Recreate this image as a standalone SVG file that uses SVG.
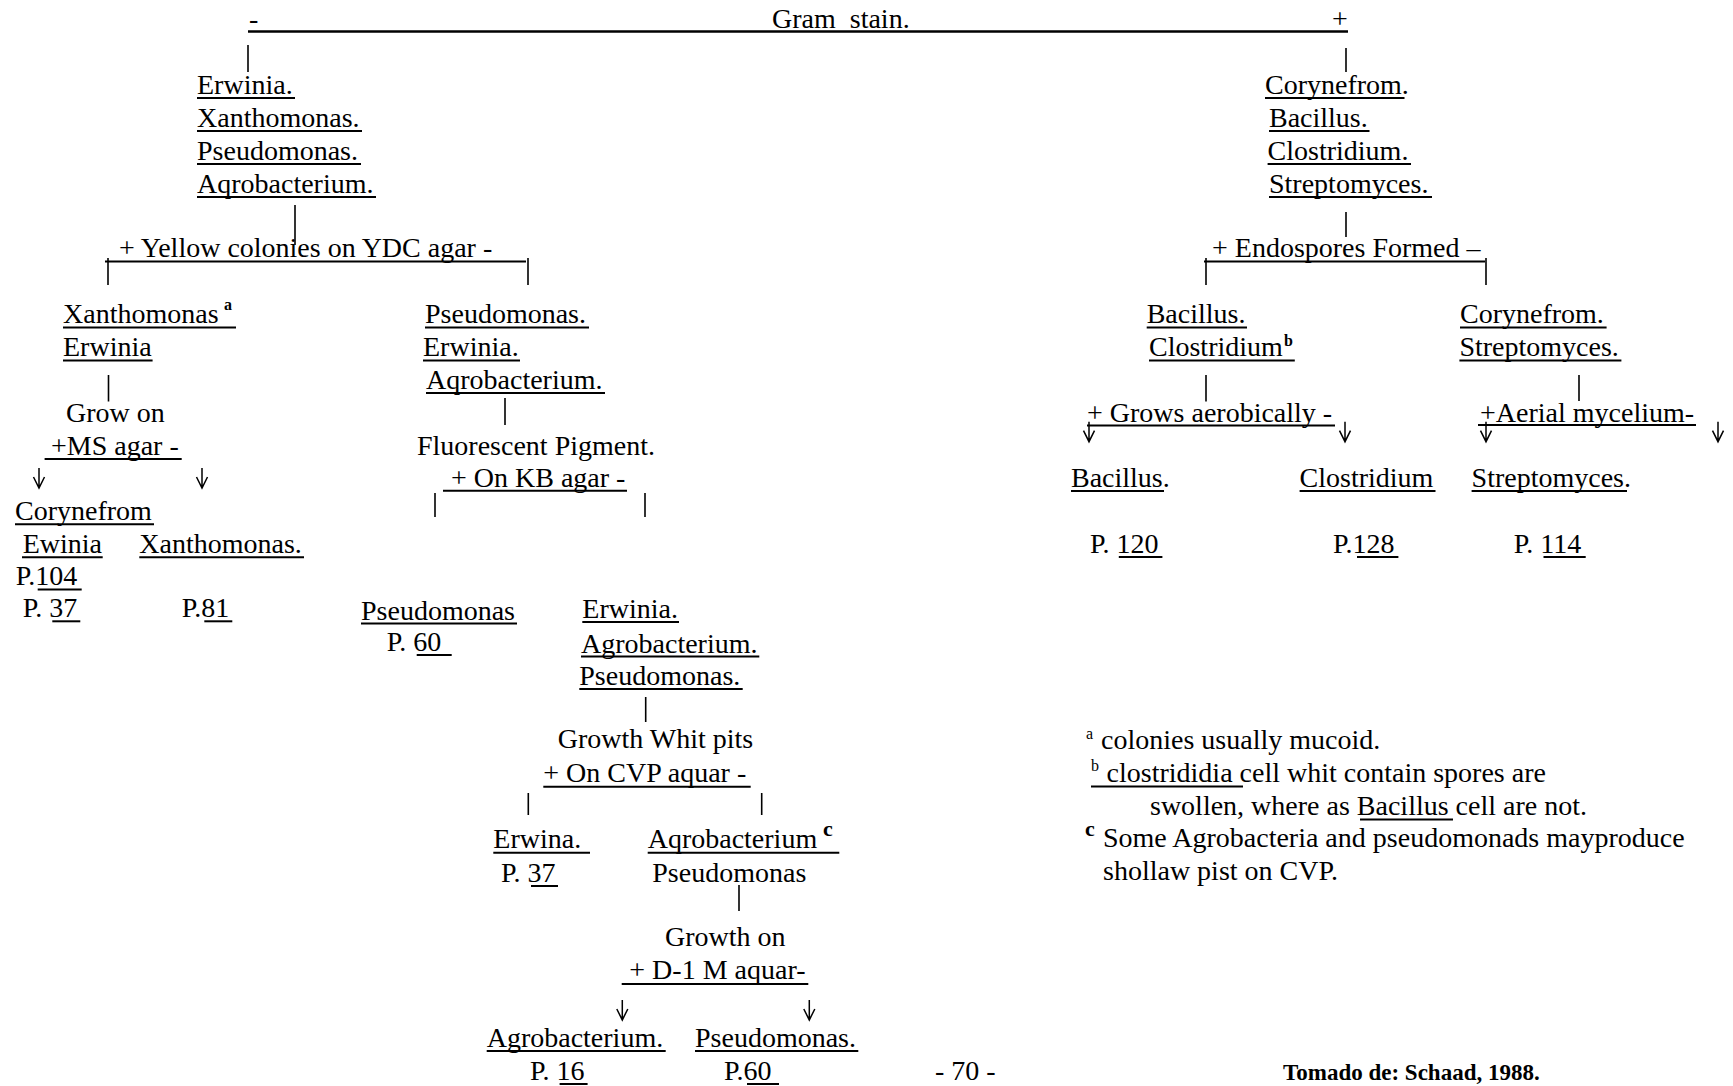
<svg xmlns="http://www.w3.org/2000/svg" xmlns:xlink="http://www.w3.org/1999/xlink" width="1733" height="1086" viewBox="0 0 1733 1086">
<style>
text{font-family:"Liberation Serif","Times New Roman",serif;font-size:28px;fill:#000;white-space:pre}
.sup{font-size:16px;font-weight:bold}
.supc{font-size:22px;font-weight:bold}
.bold{font-weight:bold;font-size:23px}
.ul{stroke:#000;stroke-width:2}
.c{stroke:#000;stroke-width:1.6;fill:none}
.bar{stroke:#000;stroke-width:2;fill:none}
.arr{stroke:#000;stroke-width:1.5;fill:none}
</style>
<defs>
<path id="ah" d="M0,-11 L0,0 M-5.5,-11 L0,0 L5.5,-11"/>
<path id="ahl" d="M0,-20 L0,0 M-5.5,-11 L0,0 L5.5,-11"/>
</defs>
<rect width="1733" height="1086" fill="#fff"/>

<g id="connectors">
<line class="bar" x1="248" y1="31.5" x2="1348" y2="31.5" style="stroke-width:2.6"/>
<line class="c" x1="248" y1="45" x2="248" y2="72"/>
<line class="c" x1="1346" y1="48" x2="1346" y2="72"/>
<line class="c" x1="295" y1="205" x2="295" y2="245"/>
<line class="bar" x1="105" y1="261.5" x2="526" y2="261.5"/>
<line class="c" x1="108" y1="258" x2="108" y2="285"/>
<line class="c" x1="528" y1="258" x2="528" y2="285"/>
<line class="c" x1="108.5" y1="375" x2="108.5" y2="401.5"/>
<line class="c" x1="505" y1="398" x2="505" y2="425"/>
<line class="c" x1="435" y1="493" x2="435" y2="517"/>
<line class="c" x1="645" y1="493" x2="645" y2="517"/>
<line class="c" x1="645.7" y1="697" x2="645.7" y2="722"/>
<line class="c" x1="528.3" y1="793" x2="528.3" y2="815"/>
<line class="c" x1="761.7" y1="793" x2="761.7" y2="815"/>
<line class="c" x1="739" y1="885" x2="739" y2="911"/>
<line class="c" x1="1346" y1="212" x2="1346" y2="237"/>
<line class="bar" x1="1204" y1="261.5" x2="1485" y2="261.5"/>
<line class="c" x1="1206" y1="258" x2="1206" y2="285"/>
<line class="c" x1="1486" y1="258" x2="1486" y2="285"/>
<line class="c" x1="1206" y1="375" x2="1206" y2="401.5"/>
<line class="c" x1="1579" y1="375" x2="1579" y2="401"/>
<line class="bar" x1="1087" y1="425.5" x2="1335" y2="425.5"/>
<line class="bar" x1="1478" y1="425" x2="1696" y2="425"/>
<use xlink:href="#ahl" class="arr" x="39" y="488"/>
<use xlink:href="#ahl" class="arr" x="202" y="488"/>
<use xlink:href="#ahl" class="arr" x="1089" y="441.7"/>
<use xlink:href="#ahl" class="arr" x="1345" y="441.7"/>
<use xlink:href="#ahl" class="arr" x="1486" y="441.7"/>
<use xlink:href="#ahl" class="arr" x="1718" y="441.7"/>
<use xlink:href="#ahl" class="arr" x="622.3" y="1020"/>
<use xlink:href="#ahl" class="arr" x="809.3" y="1020"/>
</g>

<g id="gram-stain">
<text x="249" y="28">-</text>
<text x="772" y="28">Gram  stain.</text>
<text x="1332" y="28">+</text>
</g>

<g id="gram-negative">
<text x="197" y="94">Erwinia.</text>
<line class="ul" x1="197" y1="98" x2="295" y2="98"/>
<text x="197" y="127">Xanthomonas.</text>
<line class="ul" x1="197" y1="131" x2="362" y2="131"/>
<text x="197" y="160">Pseudomonas.</text>
<line class="ul" x1="197" y1="164" x2="361" y2="164"/>
<text x="197" y="193">Aqrobacterium.</text>
<line class="ul" x1="197" y1="197" x2="376" y2="197"/>
</g>

<g id="ydc-test">
<text x="119" y="257">+ Yellow colonies on YDC agar -</text>
</g>

<g id="xanth-erwinia">
<text x="63" y="323">Xanthomonas</text>
<text class="sup" x="224" y="310">a</text>
<line class="ul" x1="63" y1="327.5" x2="236" y2="327.5"/>
<text x="63" y="356">Erwinia</text>
<line class="ul" x1="63" y1="360.5" x2="152.6" y2="360.5"/>
</g>

<g id="ms-test">
<text x="66" y="421.7">Grow on</text>
<text x="51" y="455">+MS agar -</text>
<line class="ul" x1="44.6" y1="459" x2="181.7" y2="459"/>
</g>

<g id="corynefrom-ewinia">
<text x="15" y="520">Corynefrom</text>
<line class="ul" x1="15" y1="524.3" x2="154" y2="524.3"/>
<text x="22.7" y="553">Ewinia</text>
<line class="ul" x1="22" y1="557.3" x2="102.7" y2="557.3"/>
<text x="15.7" y="585">P.104</text>
<line class="ul" x1="37.7" y1="589.5" x2="81.7" y2="589.5"/>
<text x="22.7" y="617">P. 37</text>
<line class="ul" x1="52.3" y1="621.3" x2="80.3" y2="621.3"/>
</g>

<g id="xanthomonas-leaf">
<text x="139.3" y="553">Xanthomonas.</text>
<line class="ul" x1="139.3" y1="557.3" x2="304" y2="557.3"/>
<text x="181.7" y="617">P.81</text>
<line class="ul" x1="204.3" y1="621.3" x2="232.3" y2="621.3"/>
</g>

<g id="pse-erw-aqr">
<text x="425" y="323">Pseudomonas.</text>
<line class="ul" x1="425" y1="327.5" x2="589" y2="327.5"/>
<text x="423" y="356">Erwinia.</text>
<line class="ul" x1="423" y1="360.5" x2="520" y2="360.5"/>
<text x="426" y="388.5">Aqrobacterium.</text>
<line class="ul" x1="426" y1="393" x2="605" y2="393"/>
</g>

<g id="kb-test">
<text x="417" y="454.5">Fluorescent Pigment.</text>
<text x="451" y="486.7">+ On KB agar -</text>
<line class="ul" x1="443" y1="490.7" x2="627" y2="490.7"/>
</g>

<g id="pseudomonas-kb">
<text x="361" y="620">Pseudomonas</text>
<line class="ul" x1="361" y1="623.5" x2="517" y2="623.5"/>
<text x="386.7" y="650.7">P. 60 </text>
<line class="ul" x1="416.7" y1="655" x2="451.7" y2="655"/>
</g>

<g id="erw-agr-pse">
<text x="582.3" y="618.3">Erwinia.</text>
<line class="ul" x1="582.3" y1="622" x2="679" y2="622"/>
<text x="581" y="652.7">Agrobacterium.</text>
<line class="ul" x1="581" y1="656.5" x2="759.3" y2="656.5"/>
<text x="579.3" y="685">Pseudomonas.</text>
<line class="ul" x1="579.3" y1="689" x2="742.7" y2="689"/>
</g>

<g id="cvp-test">
<text x="557.7" y="748.3">Growth Whit pits</text>
<text x="543.3" y="782.3">+ On CVP aquar -</text>
<line class="ul" x1="543.3" y1="786.7" x2="750.7" y2="786.7"/>
</g>

<g id="erwina-leaf">
<text x="493.3" y="848.3">Erwina. </text>
<line class="ul" x1="493.3" y1="852.7" x2="590" y2="852.7"/>
<text x="501" y="881.7">P. 37</text>
<line class="ul" x1="531" y1="886" x2="558" y2="886"/>
</g>

<g id="aqr-pse">
<text x="647.7" y="848.3">Aqrobacterium</text>
<text class="supc" x="823" y="836">c</text>
<line class="ul" x1="647.7" y1="852.7" x2="839.3" y2="852.7"/>
<text x="652.3" y="881.7">Pseudomonas</text>
</g>

<g id="d1m-test">
<text x="665" y="946">Growth on</text>
<text x="629.3" y="979.3">+ D-1 M aquar-</text>
<line class="ul" x1="621.7" y1="984" x2="808.3" y2="984"/>
</g>

<g id="agrobacterium-leaf">
<text x="486.7" y="1046.7">Agrobacterium.</text>
<line class="ul" x1="486.7" y1="1051" x2="665.7" y2="1051"/>
<text x="530" y="1080">P. 16</text>
<line class="ul" x1="559.6" y1="1084" x2="587.6" y2="1084"/>
</g>

<g id="pseudomonas-leaf">
<text x="695" y="1046.7">Pseudomonas.</text>
<line class="ul" x1="695" y1="1051" x2="858.3" y2="1051"/>
<text x="724" y="1080">P.60 </text>
<line class="ul" x1="747" y1="1084" x2="779" y2="1084"/>
</g>

<g id="page-number">
<text x="935" y="1080">- 70 -</text>
</g>

<g id="gram-positive">
<text x="1265" y="94">Corynefrom.</text>
<line class="ul" x1="1265" y1="98" x2="1404.5" y2="98"/>
<text x="1269" y="127">Bacillus.</text>
<line class="ul" x1="1269" y1="131" x2="1369.5" y2="131"/>
<text x="1267.6" y="160">Clostridium.</text>
<line class="ul" x1="1267.6" y1="164" x2="1411" y2="164"/>
<text x="1269" y="193">Streptomyces.</text>
<line class="ul" x1="1269" y1="197" x2="1432" y2="197"/>
</g>

<g id="endospore-test">
<text x="1212" y="257.3">+ Endospores Formed –</text>
</g>

<g id="bac-clo">
<text x="1146.7" y="323.3">Bacillus.</text>
<line class="ul" x1="1146.7" y1="327.5" x2="1247" y2="327.5"/>
<text x="1149" y="356">Clostridium</text>
<text class="sup" x="1284" y="346">b</text>
<line class="ul" x1="1149" y1="360.5" x2="1294.8" y2="360.5"/>
</g>

<g id="cor-str">
<text x="1460" y="323.3">Corynefrom.</text>
<line class="ul" x1="1460" y1="327.5" x2="1606.6" y2="327.5"/>
<text x="1459.4" y="356">Streptomyces.</text>
<line class="ul" x1="1459.4" y1="360.5" x2="1621.4" y2="360.5"/>
</g>

<g id="aerobic-test">
<text x="1087" y="421.7">+ Grows aerobically -</text>
</g>

<g id="aerial-test">
<text x="1480" y="421.7">+Aerial mycelium-</text>
</g>

<g id="bacillus-leaf">
<text x="1071" y="486.7">Bacillus.</text>
<line class="ul" x1="1071" y1="491" x2="1164" y2="491"/>
<text x="1090" y="552.7">P. 120</text>
<line class="ul" x1="1118.8" y1="557" x2="1162.4" y2="557"/>
</g>

<g id="clostridium-leaf">
<text x="1299.6" y="486.7">Clostridium</text>
<line class="ul" x1="1299.6" y1="491" x2="1435.5" y2="491"/>
<text x="1333" y="552.7">P.128</text>
<line class="ul" x1="1357" y1="557" x2="1398.4" y2="557"/>
</g>

<g id="streptomyces-leaf">
<text x="1471.6" y="486.7">Streptomyces.</text>
<line class="ul" x1="1471.6" y1="491" x2="1627" y2="491"/>
<text x="1513.8" y="552.7">P. 114</text>
<line class="ul" x1="1543.5" y1="557" x2="1585.7" y2="557"/>
</g>

<g id="footnotes">
<text class="sup" x="1086" y="739" style="font-weight:normal">a</text>
<text x="1101" y="749.3">colonies usually mucoid.</text>
<text class="sup" x="1091" y="771" style="font-weight:normal">b</text>
<text x="1106.6" y="781.7">clostrididia cell whit contain spores are</text>
<line class="ul" x1="1091" y1="786.5" x2="1243" y2="786.5"/>
<text x="1150" y="815">swollen, where as Bacillus cell are not.</text>
<line class="ul" x1="1360" y1="819.5" x2="1453" y2="819.5"/>
<text class="supc" x="1085" y="836">c</text>
<text x="1103" y="846.7">Some Agrobacteria and pseudomonads mayproduce</text>
<text x="1103" y="880">shollaw pist on CVP.</text>
</g>

<g id="source">
<text class="bold" x="1283" y="1080">Tomado de: Schaad, 1988.</text>
</g>
</svg>
